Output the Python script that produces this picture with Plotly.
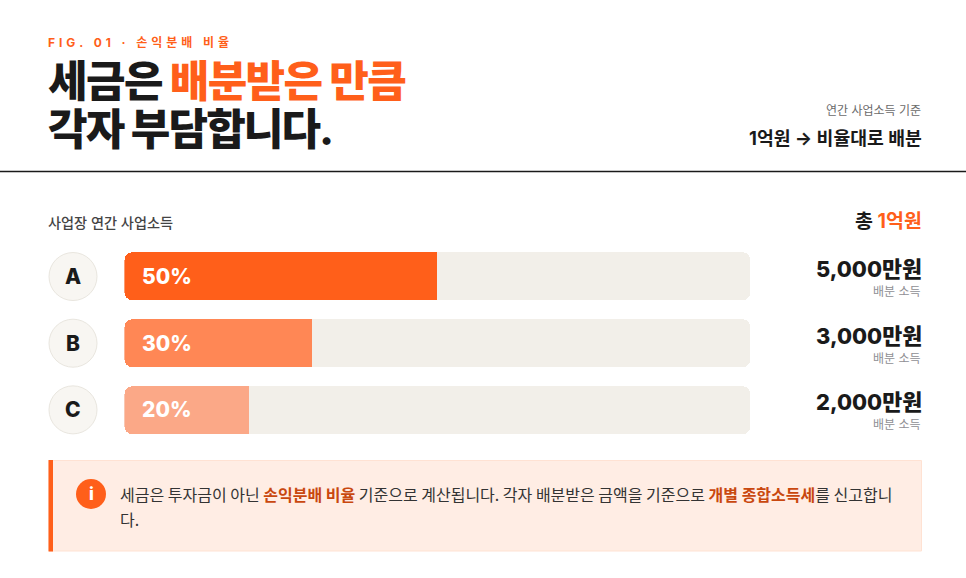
import plotly.graph_objects as go

# Profit-share data
partners = ["A", "B", "C"]
shares = [50, 30, 20]
amounts = ["5,000만원", "3,000만원", "2,000만원"]
fill_colors = ["#ff5f1a", "#ff8755", "#fba887"]
track_total = [100, 100, 100]
zero_base = [0, 0, 0]
half = [v / 2 for v in shares]

W, H = 966, 578
FONT = "Inter, 'Noto Sans CJK KR', sans-serif"
KR = "'Noto Sans CJK KR', sans-serif"
INK = "#1a1a1a"
ORANGE = "#ff5f1a"


def px(x):
    return x / W


def py(y):
    return 1 - y / H


fig = go.Figure()
BAR_W = 0.72

# An explicit base makes Plotly round both ends of the track
fig.add_bar(y=partners, x=track_total, base=zero_base, orientation="h", width=BAR_W,
            marker=dict(color="#f2efe9", cornerradius=8, line=dict(width=0)),
            hoverinfo="skip")
# Share bars: rounded on the left, the right half is repainted square
fig.add_bar(y=partners, x=shares, base=zero_base, orientation="h", width=BAR_W,
            marker=dict(color=fill_colors, cornerradius=8, line=dict(width=0)),
            hoverinfo="skip")
fig.add_bar(y=partners, x=half, base=half, orientation="h", width=BAR_W,
            marker=dict(color=fill_colors, line=dict(width=0)),
            hoverinfo="skip")

# Partner badges on a pixel-wide second axis
fig.add_scatter(y=partners, x=[73, 73, 73], xaxis="x2", yaxis="y", mode="markers",
                cliponaxis=False,
                marker=dict(size=48, color="#f8f6f2",
                            line=dict(color="#e9e6df", width=1)),
                hoverinfo="skip")

ann = []


def label(x, y, text, size, color=INK, weight=400, anchor="left", family=FONT):
    ann.append(dict(x=px(x), y=py(y), xref="paper", yref="paper", text=text,
                    showarrow=False, xanchor=anchor, yanchor="middle",
                    font=dict(family=family, size=size, color=color, weight=weight),
                    borderpad=0, borderwidth=0))


label(48, 42, "FIG. 01 · 손익분배 비율", 12, ORANGE, 700)
label(48, 81, f"세금은 <span style='color:{ORANGE}'>배분받은 만큼</span>", 43, INK, 800)
label(48, 129, "각자 부담합니다.", 43, INK, 800)
label(921, 111, "연간 사업소득 기준", 12, "#6b6b6b", 400, "right")
label(921.5, 138, "1억원 → 비율대로 배분", 18.3, INK, 700, "right")
label(48, 222.5, "사업장 연간 사업소득", 14.2, "#444444", 500)
label(921.5, 221.5, f"총 <span style='color:{ORANGE}'>1억원</span>", 19.5, INK, 700, "right")

# Badge letters, percentage labels inside the bars, amounts on the right
for name, share, amount, yc in zip(partners, shares, amounts, [277, 343.5, 410]):
    ann.append(dict(x=73, y=name, xref="x2", yref="y", text=name, showarrow=False,
                    xanchor="center", yanchor="middle",
                    font=dict(family=FONT, size=21, color=INK, weight=800)))
    ann.append(dict(x=0, y=name, xref="x", yref="y", text=f"{share}%", showarrow=False,
                    xanchor="left", yanchor="middle", xshift=16,
                    font=dict(family=FONT, size=21, color="#ffffff", weight=800)))
    label(921.5, yc - 8, amount, 21.8, INK, 800, "right")
    label(921, yc + 14.5, "배분 소득", 12, "#8f8f94", 400, "right")

# Note box text
B = "#c9480f"
label(120, 494, f"세금은 투자금이 아닌 <span style='color:{B}'><b>손익분배 비율</b></span> 기준으로 계산됩니다. "
      f"각자 배분받은 금액을 기준으로 <span style='color:{B}'><b>개별 종합소득세</b></span>를 신고합니", 16, "#333333", 400, family=KR)
label(120, 518.5, "다.", 16, "#333333", 400, family=KR)
label(91, 494, "i", 17, "#ffffff", 800, "center")

shapes = [
    dict(type="line", xref="paper", yref="paper", x0=0, x1=1, y0=py(171.5), y1=py(171.5),
         line=dict(color=INK, width=1.5), layer="below"),
    dict(type="rect", xref="paper", yref="paper", x0=px(49), x1=px(921.5), y0=py(460.5), y1=py(551),
         fillcolor="#ffede4", line=dict(color="#ffe2d3", width=1), layer="below"),
    dict(type="rect", xref="paper", yref="paper", x0=px(48.5), x1=px(53), y0=py(460), y1=py(551.5),
         fillcolor=ORANGE, line=dict(width=0), layer="below"),
    dict(type="circle", xref="paper", yref="paper", x0=px(76), x1=px(106), y0=py(479), y1=py(509),
         fillcolor=ORANGE, line=dict(width=0), layer="below"),
]

fig.update_layout(
    width=W, height=H, autosize=False, margin=dict(l=0, r=0, t=0, b=0),
    paper_bgcolor="#ffffff", plot_bgcolor="rgba(0,0,0,0)", barmode="overlay",
    showlegend=False, annotations=ann, shapes=shapes, bargap=0,
    xaxis=dict(domain=[px(124.4), px(750)], range=[0, 100], visible=False, fixedrange=True),
    xaxis2=dict(domain=[0, 1], range=[0, W], anchor="y", visible=False, fixedrange=True),
    yaxis=dict(domain=[py(443.2), py(243.2)], type="category", categoryorder="array",
               categoryarray=partners[::-1], range=[-0.5, 2.5], visible=False, fixedrange=True),
)

# Letter-spacing is not a Plotly font option, so it is applied after the first draw
tracking = """
var rules = [['FIG.', 3.95, 'left'], ['세금은 배분', -1.6, 'left'], ['각자 부담', -1.9, 'left']];
document.querySelectorAll('.annotation-text').forEach(function (t) {
  rules.forEach(function (r) {
    if (t.textContent.indexOf(r[0]) === 0) {
      var before = t.getBBox();
      t.style.letterSpacing = r[1] + 'px';
      var after = t.getBBox();
      t.setAttribute('transform', 'translate(' + (before.x - after.x) + ',0)');
    }
  });
});
"""
fig.write_html("out.html", post_script=tracking, config={"displayModeBar": False})
